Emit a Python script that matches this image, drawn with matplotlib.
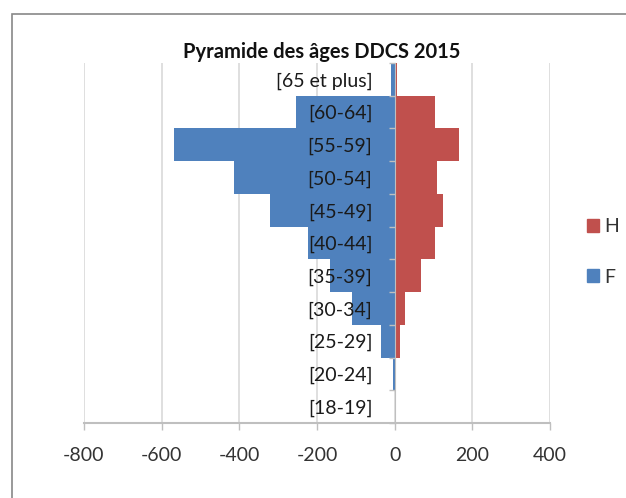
import matplotlib.pyplot as plt
import matplotlib.patches as mpatches
import numpy as np

# age classes, bottom to top
ages = ["[18-19]", "[20-24]", "[25-29]", "[30-34]", "[35-39]", "[40-44]",
        "[45-49]", "[50-54]", "[55-59]", "[60-64]", "[65 et plus]"]
femmes = [0, -4, -36, -109, -167, -222, -320, -415, -568, -255, -10]
hommes = [0, 0, 13, 27, 68, 103, 124, 108, 165, 105, 5]
xticks = [-800, -600, -400, -200, 0, 200, 400]

blue = "#4F81BD"
red = "#C0504D"
fam = ["Liberation Sans Narrow", "Lato", "DejaVu Sans"]
plt.rcParams["font.family"] = fam

W, H = 626, 498
fig = plt.figure(figsize=(W / 100, H / 100), dpi=100)
ax = fig.add_axes([84 / W, 1 - 423 / H, (550 - 84) / W, (423 - 63) / H])

y = np.arange(len(ages))
for xt in xticks:
    ax.axvline(xt, color="#D9D9D9", lw=1.2, zorder=0)
ax.barh(y, femmes, height=1.0, color=blue, label="F", zorder=1)
ax.barh(y, hommes, height=1.0, color=red, label="H", zorder=1)

ax.set_xlim(-800, 400)
ax.set_ylim(-0.5, len(ages) - 0.5)
ax.set_xticks(xticks)
ax.set_xticklabels([str(v) for v in xticks], fontsize=14, color="#333333")
ax.tick_params(axis="x", length=5, width=1, color="#BFBFBF", pad=12)

ax.spines["left"].set_position(("data", 0))
ax.spines["left"].set_color("#BFBFBF")
ax.spines["left"].set_linewidth(0.8)
ax.spines["bottom"].set_color("#BFBFBF")
ax.spines["bottom"].set_linewidth(1.5)
ax.spines["top"].set_visible(False)
ax.spines["right"].set_visible(False)

ax.set_yticks(y)
ax.set_yticklabels(ages, fontsize=14, color="#1a1a1a")
ax.set_yticks(np.arange(len(ages) + 1) - 0.5, minor=True)
ax.tick_params(axis="y", which="major", length=0, pad=16)
ax.tick_params(axis="y", which="minor", length=4, width=1, color="#BFBFBF")

fig.text(322 / W, 1 - 52 / H, "Pyramide des âges DDCS 2015", ha="center", va="center",
         fontsize=14.5, fontweight="bold", color="#111111")

handles = [mpatches.Patch(color=red, label="H"), mpatches.Patch(color=blue, label="F")]
fig.legend(handles=handles, loc="center left", bbox_to_anchor=(587 / W, 1 - 252 / H),
           frameon=False, fontsize=14, handlelength=0.6, handleheight=0.6,
           handletextpad=0.3, labelspacing=1.7, labelcolor="#333333",
           borderpad=0, borderaxespad=0)

# outer chart frame
fig.patches.append(mpatches.Rectangle((12 / W, -0.1), 1.2, 1.1 - 14 / H,
                                      transform=fig.transFigure, fill=False,
                                      edgecolor="#888888", lw=1.2))

fig.savefig("out.png", dpi=100)
